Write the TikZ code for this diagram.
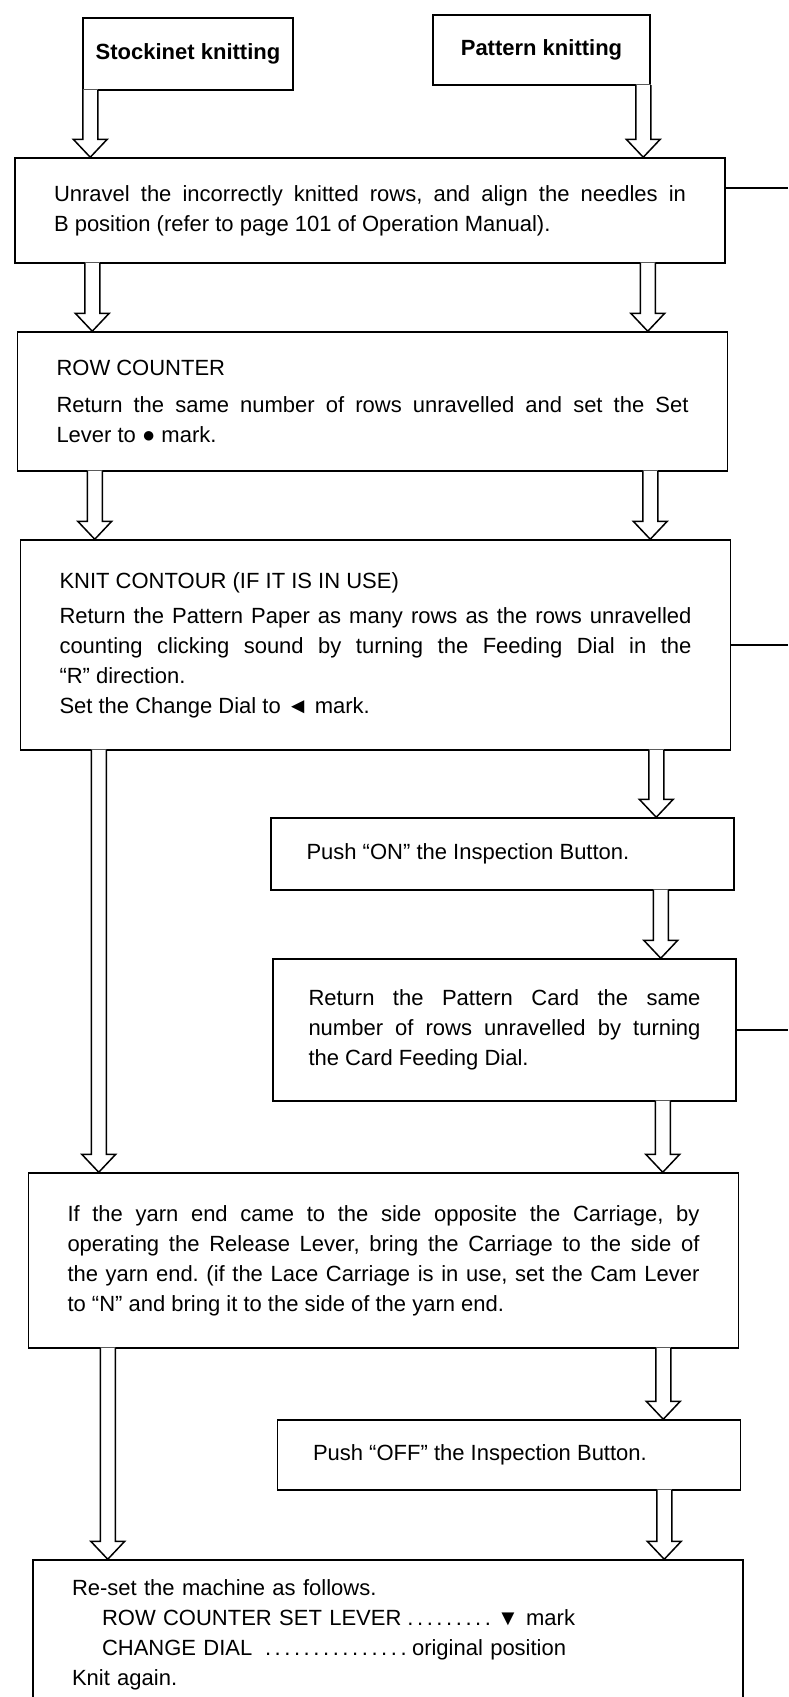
\documentclass[tikz,border=0pt]{standalone}
\usepackage{fontspec}
\setmainfont{Liberation Sans}
\usepackage{tikz}
\usetikzlibrary{calc}
\frenchspacing
\newcommand{\bodyfont}{\fontsize{22}{30}\selectfont}
\tikzset{
  flowbox/.style={draw,line width=1.5pt,inner ysep=0pt,font=\bodyfont},
  widebox/.style={flowbox,text width=632pt,inner xsep=39pt,align=justify},
  halfbox/.style={flowbox,text width=392pt,inner xsep=35.5pt,align=justify},
  startbox/.style={flowbox,font=\bodyfont\bfseries,align=center},
  hollow/.style={line width=1.5pt,line join=miter},
  exitline/.style={line width=1.2pt},
}
% hollow arrow from a point on a box bottom down to the next box
\newcommand{\flowarrow}[2]{%
  \path (#1) coordinate (fa-s) (fa-s |- #2.north) coordinate (fa-e);
  \fill[white] ($(fa-s)+(-7.5,-1.2)$) -- ($(fa-e)+(-7.5,-18)$) -- ($(fa-e)+(-17,-18)$)
    -- (fa-e) -- ($(fa-e)+(17,-18)$) -- ($(fa-e)+(7.5,-18)$) -- ($(fa-s)+(7.5,-1.2)$) -- cycle;
  \draw[hollow] ($(fa-s)+(-7.5,-0.7)$) -- ($(fa-e)+(-7.5,-18)$) -- ($(fa-e)+(-17,-18)$)
    -- (fa-e) -- ($(fa-e)+(17,-18)$) -- ($(fa-e)+(7.5,-18)$) -- ($(fa-s)+(7.5,-0.7)$);
}

\begin{document}
\begin{tikzpicture}[x=1pt,y=-1pt]
\useasboundingbox (0,0) rectangle (788,1697);
\clip (0,0) rectangle (788,1697);
% start boxes
\node[startbox,minimum width=210pt,minimum height=72pt] (stock) at (188,54) {Stockinet knitting};
\node[startbox,minimum width=217pt,minimum height=70pt] (pattern) at (541.5,50) {Pattern knitting};
% steps
\node[widebox,minimum height=105pt] (unravel) at (370,210.5)
  {Unravel the incorrectly knitted rows, and align the needles in\linebreak
   B position (refer to page 101 of Operation Manual).};
\node[widebox,minimum height=139pt] (rowc) at (372.5,401.5)
  {ROW COUNTER\\[7pt]
   Return the same number of rows unravelled and set the Set\linebreak
   Lever to ● mark.};
\node[widebox,minimum height=210pt] (contour) at (375.5,645)
  {KNIT CONTOUR (IF IT IS IN USE)\\[5pt]
   Return the Pattern Paper as many rows as the rows unravelled\linebreak
   counting clicking sound by turning the Feeding Dial in the\linebreak
   ``R'' direction.\\
   Set the Change Dial to ◄ mark.};
\node[halfbox,minimum height=72pt] (pushon) at (502.5,854)
  {Push ``ON'' the Inspection Button.};
\node[halfbox,minimum height=142pt] (card) at (504.5,1030)
  {Return the Pattern Card the same\linebreak
   number of rows unravelled by turning\linebreak
   the Card Feeding Dial.};
\node[widebox,minimum height=175pt] (yarn) at (383.5,1260.5)
  {If the yarn end came to the side opposite the Carriage, by\linebreak
   operating the Release Lever, bring the Carriage to the side of\linebreak
   the yarn end. (if the Lace Carriage is in use, set the Cam Lever\linebreak
   to ``N'' and bring it to the side of the yarn end.};
\node[halfbox,minimum height=70pt] (pushoff) at (509,1455)
  {Push ``OFF'' the Inspection Button.};
\node[widebox,align=left,minimum height=150pt] (reset) at (388,1635)
  {Re-set the machine as follows.\\
   \hspace*{30pt}\makebox[395pt][l]{ROW COUNTER SET LEVER\dotfill}▼ mark\\
   \hspace*{30pt}\makebox[310pt][l]{CHANGE DIAL \dotfill}original position\\
   Knit again.};
% connectors
\flowarrow{$(stock.south west)+(8,0)$}{unravel}
\flowarrow{$(pattern.south east)+(-7.5,0)$}{unravel}
\flowarrow{$(unravel.south west)+(78,0)$}{rowc}
\flowarrow{$(unravel.south east)+(-78,0)$}{rowc}
\flowarrow{$(rowc.south west)+(78,0)$}{contour}
\flowarrow{$(rowc.south east)+(-78,0)$}{contour}
\flowarrow{$(contour.south west)+(79,0)$}{yarn}
\flowarrow{$(contour.south east)+(-75,0)$}{pushon}
\flowarrow{$(pushon.south east)+(-74,0)$}{card}
\flowarrow{$(card.south east)+(-74,0)$}{yarn}
\flowarrow{$(yarn.south west)+(80,0)$}{reset}
\flowarrow{$(yarn.south east)+(-76,0)$}{pushoff}
\flowarrow{$(pushoff.south east)+(-77,0)$}{reset}
% lines running off to the right
\coordinate (unravel-out) at (788,188);
\coordinate (contour-out) at (788,645);
\coordinate (card-out) at (788,1030);
\draw[exitline] (unravel.east |- unravel-out) -- (unravel-out);
\draw[exitline] (contour.east) -- (contour-out);
\draw[exitline] (card.east) -- (card-out);
\end{tikzpicture}
\end{document}
